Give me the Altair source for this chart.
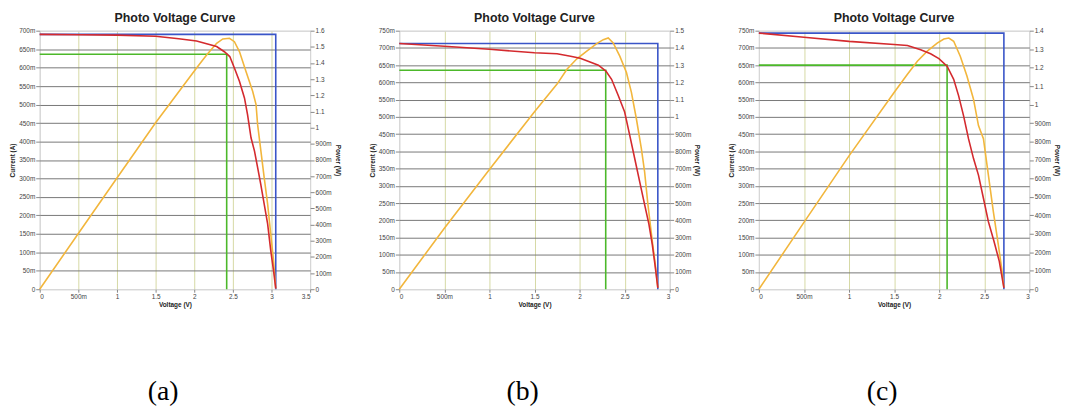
import altair as alt
import pandas as pd

# ---------------- data ----------------
titles = ["Photo Voltage Curve", "Photo Voltage Curve", "Photo Voltage Curve"]
captions = ["(a)", "(b)", "(c)"]

# Panel (a)
iv_v_a = [0, 0.5, 1.0, 1.5, 1.8, 2.03, 2.29, 2.39, 2.46, 2.52, 2.585, 2.65, 2.69, 2.735, 2.78, 2.82, 2.86, 2.905, 2.95, 2.99, 3.026, 3.055]
iv_i_a = [0.690, 0.689, 0.688, 0.685, 0.678, 0.672, 0.657, 0.643, 0.630, 0.599, 0.563, 0.518, 0.473, 0.410, 0.374, 0.330, 0.285, 0.231, 0.177, 0.105, 0.051, 0.002]
p_v_a = [0, 0.5, 1.0, 1.5, 2.03, 2.16, 2.29, 2.37, 2.456, 2.52, 2.585, 2.67, 2.756, 2.80, 2.82, 2.863, 2.905, 2.95, 2.99, 3.026, 3.055]
p_w_a = [0, 0.345, 0.688, 1.03, 1.369, 1.45, 1.522, 1.549, 1.553, 1.532, 1.471, 1.348, 1.225, 1.143, 1.02, 0.855, 0.692, 0.527, 0.343, 0.178, 0.005]
mark_a = {"isc": 0.690, "voc": 3.055, "imp": 0.636, "vmp": 2.42}

# Panel (b)
iv_v_b = [0, 0.5, 1.0, 1.5, 1.75, 1.9, 2.007, 2.116, 2.209, 2.292, 2.355, 2.429, 2.50, 2.556, 2.611, 2.666, 2.721, 2.769, 2.806, 2.835, 2.868]
iv_i_b = [0.713, 0.705, 0.696, 0.686, 0.683, 0.676, 0.670, 0.659, 0.650, 0.633, 0.609, 0.562, 0.514, 0.447, 0.380, 0.313, 0.246, 0.189, 0.131, 0.074, 0.004]
p_v_b = [0, 0.5, 1.0, 1.5, 1.75, 1.86, 1.97, 2.08, 2.19, 2.263, 2.318, 2.373, 2.446, 2.52, 2.575, 2.63, 2.685, 2.721, 2.758, 2.806, 2.839, 2.868]
p_w_b = [0, 0.354, 0.695, 1.03, 1.19, 1.276, 1.337, 1.381, 1.425, 1.448, 1.458, 1.429, 1.352, 1.257, 1.142, 0.989, 0.817, 0.683, 0.492, 0.281, 0.147, 0.01]
mark_b = {"isc": 0.713, "voc": 2.868, "imp": 0.635, "vmp": 2.29}

# Panel (c)
iv_v_c = [0, 0.5, 1.0, 1.5, 1.648, 1.795, 1.905, 1.997, 2.088, 2.161, 2.216, 2.271, 2.326, 2.381, 2.436, 2.491, 2.546, 2.608, 2.667, 2.718]
iv_i_c = [0.743, 0.731, 0.719, 0.710, 0.707, 0.695, 0.683, 0.669, 0.647, 0.609, 0.561, 0.503, 0.436, 0.379, 0.331, 0.264, 0.196, 0.139, 0.081, 0.004]
p_v_c = [0, 0.5, 1.0, 1.5, 1.648, 1.758, 1.868, 1.978, 2.052, 2.107, 2.161, 2.234, 2.308, 2.381, 2.436, 2.491, 2.546, 2.601, 2.656, 2.692, 2.718]
p_w_c = [0, 0.362, 0.722, 1.065, 1.164, 1.235, 1.289, 1.333, 1.355, 1.360, 1.343, 1.262, 1.155, 1.029, 0.886, 0.815, 0.618, 0.420, 0.242, 0.117, 0.01]
mark_c = {"isc": 0.743, "voc": 2.718, "imp": 0.650, "vmp": 2.088}

# axis ranges and ticks
x_max = [3.5, 3.0, 3.0]
i_max = [0.70, 0.75, 0.75]
p_max = [1.6, 1.5, 1.4]
x_ticks = [[0, 0.5, 1, 1.5, 2, 2.5, 3, 3.5], [0, 0.5, 1, 1.5, 2, 2.5, 3], [0, 0.5, 1, 1.5, 2, 2.5, 3]]
i_ticks = [[round(k * 0.05, 2) for k in range(15)], [round(k * 0.05, 2) for k in range(16)], [round(k * 0.05, 2) for k in range(16)]]
p_ticks = [[round(k * 0.1, 1) for k in range(17)], [round(k * 0.1, 1) for k in range(16)], [round(k * 0.1, 1) for k in range(15)]]

W, H = 273, 261
RED, YEL, BLUE, GREEN = "#d42a2e", "#f2b63c", "#3a55c8", "#4cb82a"
HGRID, VGRID, EDGE = "#777777", "#d6d9a4", "#d6d6d6"
FONT = "Liberation Sans"
SI = ("datum.value == 0 ? '0' : (datum.value < 0.9995 ? format(datum.value * 1000, '.0f') + 'm' "
      ": format(datum.value, '~g'))")


def panel(k, iv_v, iv_i, p_v, p_w, mk):
    xm, im, pm = x_max[k], i_max[k], p_max[k]
    iv = pd.DataFrame({"V": iv_v, "I": iv_i, "o": list(range(len(iv_v)))})
    pw = pd.DataFrame({"V": p_v, "P": p_w, "o": list(range(len(p_v)))})
    ref = pd.DataFrame({
        "V": [0, mk["voc"], mk["voc"], 0, mk["vmp"], mk["vmp"]],
        "I": [mk["isc"], mk["isc"], 0, mk["imp"], mk["imp"], 0],
        "s": ["isc", "isc", "isc", "mp", "mp", "mp"],
        "o": [0, 1, 2, 0, 1, 2],
    })

    xenc = alt.X("V:Q", scale=alt.Scale(domain=[0, xm], nice=False, zero=False),
                 axis=alt.Axis(values=x_ticks[k], labelExpr=SI, title="Voltage (V)", grid=True,
                               gridColor={"condition": {"test": f"datum.value == 0 || datum.value >= {xm}", "value": EDGE}, "value": VGRID},
                               domain=False, tickSize=3, tickColor="#888", labelPadding=1, titlePadding=2))
    iscale = alt.Scale(domain=[0, im], nice=False, zero=False)
    yenc = alt.Y("I:Q", scale=iscale,
                 axis=alt.Axis(values=i_ticks[k], labelExpr=SI, title="Current (A)", grid=True,
                               gridColor={"condition": {"test": f"datum.value == 0 || datum.value >= {im}", "value": EDGE}, "value": HGRID},
                               domain=False, tickSize=4, tickColor="#888", labelPadding=1, titlePadding=3))

    refs = alt.Chart(ref).mark_line(strokeWidth=1.6).encode(
        x=xenc, y=yenc, detail="s:N", order="o:Q",
        color=alt.Color("s:N", scale=alt.Scale(domain=["isc", "mp"], range=[BLUE, GREEN]), legend=None))

    power = alt.Chart(pw).mark_line(color=YEL, strokeWidth=1.6).encode(
        x=xenc, order="o:Q",
        y=alt.Y("P:Q", scale=alt.Scale(domain=[0, pm], nice=False, zero=False),
                axis=alt.Axis(orient="right", values=p_ticks[k], labelExpr=SI, title="Power (W)", grid=False,
                              domain=False, tickSize=4, tickColor="#888", labelPadding=1, titlePadding=3)))

    red = alt.Chart(iv).mark_line(color=RED, strokeWidth=1.6).encode(
        x=xenc, order="o:Q",
        y=alt.Y("I:Q", scale=iscale, axis=None))

    cap = alt.Chart(pd.DataFrame({"c": [captions[k]]})).mark_text(
        font="Liberation Serif", fontSize=28, align="center", baseline="middle", color="#000"
    ).encode(x=alt.value(W / 2 - 12), y=alt.value(H + 104), text="c:N")

    return alt.layer(refs, power, red, cap).resolve_scale(y="independent").properties(
        width=W, height=H, title=alt.TitleParams(titles[k], offset=3))


charts = [
    panel(0, iv_v_a, iv_i_a, p_v_a, p_w_a, mark_a),
    panel(1, iv_v_b, iv_i_b, p_v_b, p_w_b, mark_b),
    panel(2, iv_v_c, iv_i_c, p_v_c, p_w_c, mark_c),
]

chart = alt.hconcat(*charts, spacing=28).properties(
    padding={"left": 1, "top": 2, "right": 2, "bottom": 0}
).configure_view(stroke=EDGE).configure_axis(
    labelFont=FONT, labelFontSize=6.5, labelColor="#444",
    titleFont=FONT, titleFontSize=6.5, titleFontWeight="bold", titleColor="#222"
).configure_title(font=FONT, fontSize=12.5, fontWeight="bold", color="#222", anchor="middle")

chart.save("out.html", embed_options={"renderer": "svg", "actions": False})
